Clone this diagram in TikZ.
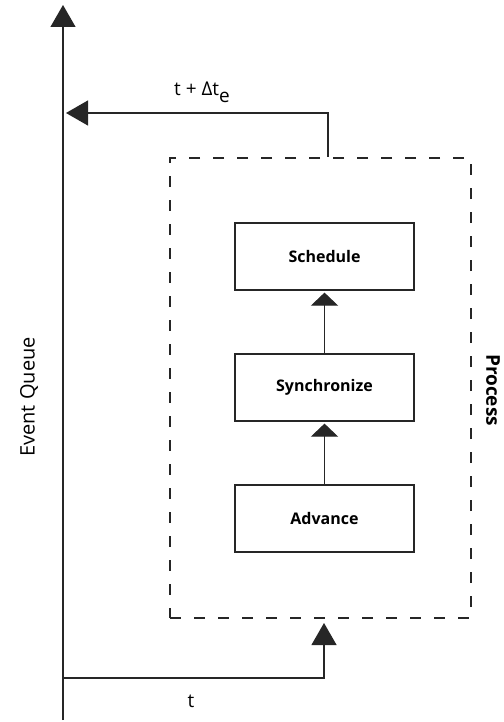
\documentclass[tikz,border=0pt]{standalone}
\usepackage{fontspec}
\setmainfont{Open Sans}
\usetikzlibrary{arrows.meta}
\tikzset{
  conn/.style={line width=1.2pt, draw=black!85},
  bigtip/.style={-{Triangle[length=22pt,width=25pt]}},
  smalltip/.style={-{Triangle[length=13pt,width=27pt]}},
  stepbox/.style={draw=black!85, line width=1.2pt, minimum width=179pt, minimum height=67pt,
    inner sep=0pt, font=\fontsize{16}{18}\selectfont\bfseries},
  procbox/.style={draw=black!85, line width=1.2pt, dash pattern=on 11pt off 13pt,
    minimum width=301pt, minimum height=460pt, inner sep=0pt},
  lbl/.style={font=\fontsize{19}{22}\selectfont, inner sep=0pt}
}
\begin{document}
\begin{tikzpicture}[x=1pt,y=-1pt]
\useasboundingbox (0,0) rectangle (503,722);
% event queue axis
\coordinate (qbot) at (63,720);
\coordinate (qtop) at (63,5);
\draw[conn,bigtip] (qbot) -- (qtop);
\node[lbl, font=\fontsize{20}{22}\selectfont, rotate=90] (eq) at (29,397) {Event Queue};
% process box
\node[procbox] (proc) at (320.5,388) {};
\node[lbl, font=\fontsize{19}{21}\selectfont\bfseries, rotate=-90] (plabel) at (493,390) {Process};
% steps
\node[stepbox] (sched) at (324.5,256.5) {Schedule};
\node[stepbox] (sync) at (324.5,387.5) {Synchronize};
\node[stepbox] (adv) at (324.5,518.5) {Advance};
\draw[conn,smalltip,shorten >=2pt] (sync.north) -- (sched.south);
\draw[conn,smalltip,shorten >=2pt] (adv.north) -- (sync.south);
% feedback t + Delta t_e
\coordinate (fbstart) at (328,157);
\coordinate (fbtip) at (66,113);
\draw[conn,bigtip] (fbstart) |- (fbtip);
\node[lbl, anchor=base] (fblabel) at (202,96) {t + Δt\raisebox{-7pt}{e}};
% input t
\coordinate (instart) at (63,678);
\coordinate (intip) at (324,623);
\draw[conn,bigtip] (instart) -| (intip);
\node[lbl, anchor=base] (inlabel) at (191,707) {t};
\end{tikzpicture}
\end{document}
